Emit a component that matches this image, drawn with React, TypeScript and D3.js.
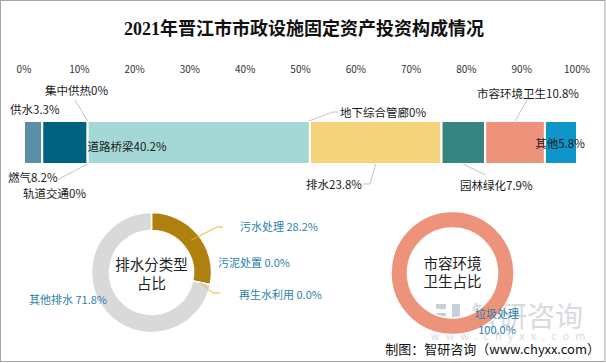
import * as d3 from 'd3'

// stacked bar: investment share by category (%)
const categories = ['供水', '燃气', '集中供热', '轨道交通', '道路桥梁', '地下综合管廊', '排水', '园林绿化', '市容环境卫生', '其他']
const shares = [3.3, 8.2, 0, 0, 40.2, 0, 23.8, 7.9, 10.8, 5.8]
const barColors = ['#5b8fa8', '#00607f', '#888', '#888', '#a3d8d6', '#888', '#f5d27c', '#378580', '#ee937b', '#0e95c9']
const tickValues = [0, 10, 20, 30, 40, 50, 60, 70, 80, 90, 100]

// donut 1: drainage breakdown
const drainCats = ['污水处理', '污泥处置', '再生水利用', '其他排水']
const drainShares = [28.2, 0, 0, 71.8]
const drainColors = ['#b0800e', '#b0800e', '#b0800e', '#d9d9d9']

// donut 2: city sanitation breakdown
const sanitCats = ['垃圾处理']
const sanitShares = [100]

const FONT = "'Noto Sans CJK SC', 'Noto Sans', sans-serif"

export default function App() {
  const W = 606, H = 363
  const x = d3.scaleLinear().domain([0, 100]).range([24, 577])
  const barTop = 121, barBot = 164

  let acc = 0
  const segs = shares.map((v, i) => {
    const s = { name: categories[i], v, x0: acc, x1: acc + v, color: barColors[i] }
    acc += v
    return s
  })
  const mid = (i: number) => x((segs[i].x0 + segs[i].x1) / 2)

  const fmt = (i: number) => `${categories[i]}${shares[i] === 0 ? '0' : shares[i].toFixed(1)}%`

  // label layout for the bar
  const barLabels = [
    { i: 0, tx: 10, ty: 114, anchor: 'start' },
    { i: 1, tx: 8, ty: 182, anchor: 'start' },
    { i: 2, tx: 45, ty: 95, anchor: 'start', line: [[x(segs[2].x0), barTop], [75, 100]] },
    { i: 3, tx: 23, ty: 198, anchor: 'start', line: [[x(segs[3].x0), barBot], [57, 180]] },
    { i: 4, tx: x(segs[4].x0), ty: 151, anchor: 'start' },
    { i: 5, tx: 340, ty: 117, anchor: 'start', line: [[x(segs[5].x0) - 1, barTop], [333, 112], [338, 112]] },
    { i: 6, tx: 306, ty: 189, anchor: 'start', line: [[mid(6), barBot], [370, 184], [363, 184]] },
    { i: 7, tx: 460, ty: 190, anchor: 'start', line: [[mid(7), barBot], [485, 175]] },
    { i: 8, tx: 477, ty: 98, anchor: 'start', line: [[mid(8), barTop], [527, 100]] },
    { i: 9, tx: mid(9) - 1, ty: 148, anchor: 'middle' },
  ]

  const pie = d3.pie<number>().sort(null).value(d => d)

  // left donut
  const c1 = { x: 151.5, y: 272.5 }
  const arc1 = d3.arc<d3.PieArcDatum<number>>().innerRadius(42).outerRadius(60)
  const arcs1 = pie(drainShares)
  const ptAt = (a: number, r: number) => [c1.x + r * Math.sin(a), c1.y - r * Math.cos(a)]
  const ang = (d: d3.PieArcDatum<number>) => (d.startAngle + d.endAngle) / 2
  const p0 = ptAt(ang(arcs1[0]), 51)
  const p2 = ptAt(ang(arcs1[2]), 50)
  const donutLabels = [
    { i: 0, tx: 240, ty: 231, line: [p0, [217, 227], [223, 227]] },
    { i: 1, tx: 218, ty: 267 },
    { i: 2, tx: 239, ty: 299, line: [p2, [213, 293], [220, 293]] },
    { i: 3, tx: 29, ty: 304 },
  ]

  // right donut
  const c2 = { x: 452.5, y: 273 }
  const arc2 = d3.arc<d3.PieArcDatum<number>>().innerRadius(45).outerRadius(61.5)
  const arcs2 = pie(sanitShares)

  const blue = '#2a7fae'
  const lineGen = d3.line()

  return (
    <svg width={W} height={H} style={{ position: 'absolute', left: 0, top: 0 }} fontFamily={FONT}>
      <rect x={0.5} y={0.5} width={W - 1.5} height={H - 2} fill="#fff" stroke="#a6a6a6" />
      <text x={304} y={35} textAnchor="middle" fontSize={18} fontWeight="bold"
        fontFamily="'Liberation Serif', 'Noto Sans CJK SC', serif" fill="#111">
        2021年晋江市市政设施固定资产投资构成情况
      </text>

      {/* top axis labels */}
      {tickValues.map(t => (
        <text key={t} x={x(t)} y={73} textAnchor="middle" fontSize={10} fill="#333">{t}%</text>
      ))}

      {/* stacked bar */}
      {segs.filter(s => s.v > 0).map(s => (
        <rect key={s.name} x={x(s.x0)} y={barTop} width={x(s.x1) - x(s.x0)} height={barBot - barTop}
          fill={s.color} stroke="#fff" strokeWidth={2} />
      ))}

      {barLabels.map(l => (
        <g key={l.i}>
          {l.line && <path d={lineGen(l.line as [number, number][]) || ''} fill="none" stroke="#c4c4c4" strokeWidth={1} />}
          <text x={l.tx} y={l.ty} textAnchor={l.anchor as any} fontSize={11.5} fill="#1a1a1a">{fmt(l.i)}</text>
        </g>
      ))}

      {/* watermark */}
      <g opacity={0.55}>
        <rect x={436} y={304} width={10} height={5} fill="#9aa8b8" />
        <rect x={436} y={313} width={10} height={5} fill="#9aa8b8" />
        <rect x={436} y={322} width={24} height={5} fill="#9aa8b8" />
        <rect x={452} y={304} width={8} height={16} fill="#9aa8b8" />
        <text x={527} y={327} textAnchor="middle" fontSize={28} fill="#b8bec5">智研咨询</text>
        <text x={511} y={340} textAnchor="middle" fontSize={11} letterSpacing={6} fill="#b8bec5">www.chyxx.com</text>
      </g>

      {/* left donut */}
      <g transform={`translate(${c1.x},${c1.y})`}>
        {arcs1.filter(d => d.value > 0).map((d, k) => (
          <path key={k} d={arc1(d) || ''} fill={drainColors[d.index]} stroke="#fff" strokeWidth={1.5} />
        ))}
        <text y={-3} textAnchor="middle" fontSize={14.5} fill="#222">排水分类型</text>
        <text y={16} textAnchor="middle" fontSize={14.5} fill="#222">占比</text>
      </g>
      {donutLabels.map(l => (
        <g key={l.i}>
          {l.line && <path d={lineGen(l.line as [number, number][]) || ''} fill="none" stroke="#f0b429" strokeWidth={1} />}
          <text x={l.tx} y={l.ty} fontSize={11} fill={blue}>{`${drainCats[l.i]} ${drainShares[l.i].toFixed(1)}%`}</text>
        </g>
      ))}

      {/* right donut */}
      <g transform={`translate(${c2.x},${c2.y})`}>
        {arcs2.map((d, k) => (
          <path key={k} d={arc2(d) || ''} fill="#ee937b" stroke="#fff" strokeWidth={1.5} />
        ))}
        <text y={-4} textAnchor="middle" fontSize={14.5} fill="#222">市容环境</text>
        <text y={14} textAnchor="middle" fontSize={14.5} fill="#222">卫生占比</text>
      </g>
      <text x={497} y={318} textAnchor="middle" fontSize={11} fill={blue}>{sanitCats[0]}</text>
      <text x={497} y={334} textAnchor="middle" fontSize={11} fill={blue}>{sanitShares[0].toFixed(1)}%</text>

      <text x={600} y={354} textAnchor="end" fontSize={13} fill="#111">制图：智研咨询（www.chyxx.com）</text>
    </svg>
  )
}
